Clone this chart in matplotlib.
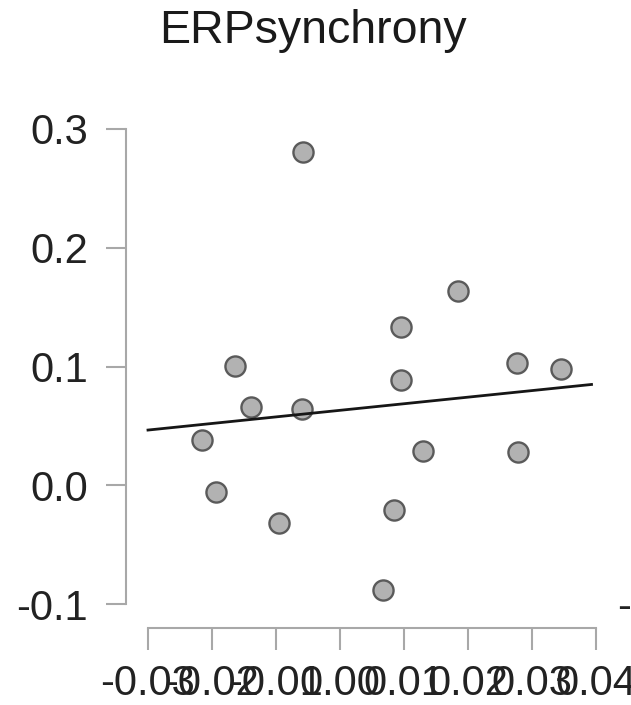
import numpy as np
import matplotlib.pyplot as plt

plt.rcParams['font.family'] = ['Liberation Sans', 'DejaVu Sans']

# ERP synchrony per subject against the predictor
sync_x = [-0.0164, -0.0139, -0.0059, -0.0216, -0.0193, -0.0095, 0.0096, 0.0129,
          0.0084, 0.0067, 0.0276, 0.0278, 0.0345, -0.0058, 0.0185, 0.0096]
sync_y = [0.1008, 0.0658, 0.0645, 0.0378, -0.0061, -0.0322, 0.0885, 0.0288,
          -0.0210, -0.0882, 0.1031, 0.0283, 0.0975, 0.2809, 0.1633, 0.1334]

# fitted line
fit_intercept = 0.0631
fit_slope = 0.554
fit_range = [-0.030, 0.0393]

x_ticks = [-0.03, -0.02, -0.01, 0.00, 0.01, 0.02, 0.03, 0.04]
x_labels = ['-0.03', '-0.02', '-0.01', '0.00', '0.01', '0.02', '0.03', '0.04']
y_ticks = [-0.1, 0.0, 0.1, 0.2, 0.3]
y_labels = ['-0.1', '0.0', '0.1', '0.2', '0.3']

W, H = 631, 705
fig = plt.figure(figsize=(W / 100, H / 100), dpi=100)
ax = fig.add_axes([148 / W, (H - 604) / H, (596 - 148) / W, (604 - 129) / H])

ax.scatter(sync_x, sync_y, s=210, facecolor='#b2b2b2', edgecolor='#5a5a5a',
           linewidth=1.7, zorder=3, clip_on=False)

fx = np.array(fit_range)
ax.plot(fx, fit_intercept + fit_slope * fx, color='#161616', lw=2.0, zorder=4,
        clip_on=False)

ax.set_xlim(-0.03, 0.04)
ax.set_ylim(-0.1, 0.3)
ax.set_xticks(x_ticks)
ax.set_xticklabels(x_labels)
ax.set_yticks(y_ticks)
ax.set_yticklabels(y_labels)

for side in ['top', 'right']:
    ax.spines[side].set_visible(False)
ax.spines['left'].set_position(('outward', 15.8))
ax.spines['bottom'].set_position(('outward', 17.3))
for side in ['left', 'bottom']:
    ax.spines[side].set_color('#a8a8a8')
    ax.spines[side].set_linewidth(1.5)

ax.tick_params(axis='y', length=14.4, width=1.5, color='#a8a8a8', pad=13,
               labelsize=30, labelcolor='#222222')
ax.tick_params(axis='x', length=15.8, width=1.5, color='#a8a8a8', pad=10,
               labelsize=30, labelcolor='#222222')

fig.text(313 / W, 1 - 31 / H, 'ERPsynchrony', fontsize=33.5, color='#1a1a1a',
         ha='center', va='center')
# edge of the neighbouring panel's axis label
fig.text(617 / W, 1 - 608 / H, '-0.1', fontsize=30, color='#222222',
         ha='left', va='center')

fig.savefig('out.png', dpi=100)
